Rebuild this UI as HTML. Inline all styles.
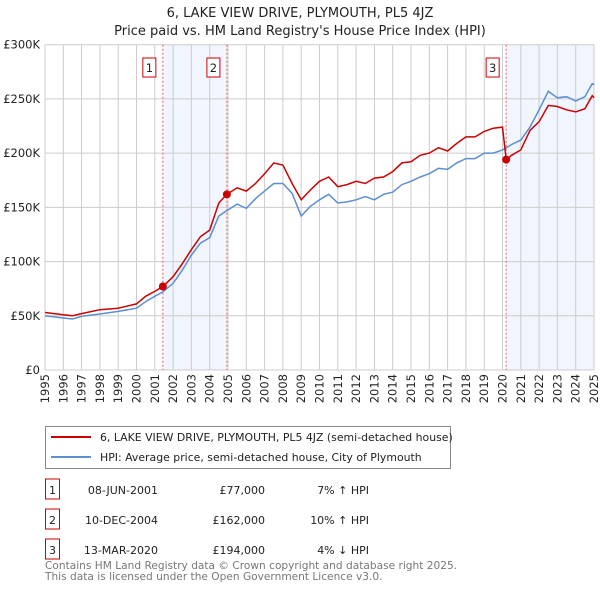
<!DOCTYPE html>
<html><head><meta charset="utf-8"><style>
body{margin:0;background:#fff;font-family:"Liberation Sans","DejaVu Sans",sans-serif;}
svg text{font-family:"DejaVu Sans","Liberation Sans",sans-serif;}
</style></head><body>
<svg id="c" width="600" height="590" xmlns="http://www.w3.org/2000/svg">
<text x="300" y="17" text-anchor="middle" font-size="13" fill="#222">6, LAKE VIEW DRIVE, PLYMOUTH, PL5 4JZ</text>
<text x="300" y="35" text-anchor="middle" font-size="13" fill="#222">Price paid vs. HM Land Registry's House Price Index (HPI)</text>
<g id="plot"></g>
<g>
<rect x="45.5" y="426.5" width="405" height="42" fill="#fff" stroke="#888"/>
<line x1="51" y1="437" x2="91" y2="437" stroke="#cc0000" stroke-width="2"/>
<text x="100" y="441" font-size="10.9" fill="#222">6, LAKE VIEW DRIVE, PLYMOUTH, PL5 4JZ (semi-detached house)</text>
<line x1="51" y1="457" x2="91" y2="457" stroke="#5b8fd0" stroke-width="2"/>
<text x="100" y="461" font-size="10.9" fill="#222">HPI: Average price, semi-detached house, City of Plymouth</text>
</g>
<g id="table" font-size="11" fill="#222"></g>
<text x="45" y="569" font-size="10.6" fill="#777">Contains HM Land Registry data © Crown copyright and database right 2025.</text>
<text x="45" y="580" font-size="10.6" fill="#777">This data is licensed under the Open Government Licence v3.0.</text>
</svg>
<script>
const yearsRed=[1995,1996,1996.5,1997,1998,1999,2000,2000.5,2001,2001.44,2002,2002.5,2003,2003.5,2004,2004.5,2004.94,2005.5,2006,2006.5,2007,2007.5,2008,2008.5,2009,2009.5,2010,2010.5,2011,2011.5,2012,2012.5,2013,2013.5,2014,2014.5,2015,2015.5,2016,2016.5,2017,2017.5,2018,2018.5,2019,2019.5,2020.0,2020.2,2020.5,2021,2021.5,2022,2022.5,2023,2023.5,2024,2024.5,2024.9,2025];
const valuesRed=[53,51,50,52,55.6,57,61,68,72.5,77,86,98,111,123,129,154,162,168,165,172,181,191,189,172,157,166,174,178,169,171,174,172,177,178,183,191,192,198,200,205,202,209,215,215,220,223,224,194,198,203,221,229,244,243,240,238,241,253,251];
const yearsHpi=[1995,1996,1996.5,1997,1998,1999,2000,2000.5,2001,2001.44,2002,2002.5,2003,2003.5,2004,2004.5,2004.94,2005.5,2006,2006.5,2007,2007.5,2008,2008.5,2009,2009.5,2010,2010.5,2011,2011.5,2012,2012.5,2013,2013.5,2014,2014.5,2015,2015.5,2016,2016.5,2017,2017.5,2018,2018.5,2019,2019.5,2020,2020.5,2021,2021.5,2022,2022.5,2023,2023.5,2024,2024.5,2024.9,2025];
const valuesHpi=[50,48,47,49.5,51.6,54,57,63,68,72,80,92,106,117,122,142,147,153,149,158,165,172,172,163,142,151,157,162,154,155,157,160,157,162,164,171,174,178,181,186,185,191,195,195,200,200,203,208,212,224,240,257,251,252,248,252,264,263];
const saleYears=[2001.44,2004.94,2020.2];
const saleValues=[77,162,194];
const saleLabels=["1","2","3"];
const saleDates=["08-JUN-2001","10-DEC-2004","13-MAR-2020"];
const salePrices=["£77,000","£162,000","£194,000"];
const saleHpi=["7% ↑ HPI","10% ↑ HPI","4% ↓ HPI"];
const yTicks=[0,50,100,150,200,250,300];
const yTickLabels=["£0","£50K","£100K","£150K","£200K","£250K","£300K"];
const xYears=[1995,1996,1997,1998,1999,2000,2001,2002,2003,2004,2005,2006,2007,2008,2009,2010,2011,2012,2013,2014,2015,2016,2017,2018,2019,2020,2021,2022,2023,2024,2025];

const NS="http://www.w3.org/2000/svg";
const L=45,R=594,T=44.7,B=370;
const X=y=>L+(y-1995)/30*(R-L);
const Y=v=>B-v/300*(B-T);
const plot=document.getElementById('plot');
function el(tag,attrs,parent){const e=document.createElementNS(NS,tag);for(const k in attrs)e.setAttribute(k,attrs[k]);(parent||plot).appendChild(e);return e;}
let s1=el('rect',{x:X(saleYears[0]),y:T,width:X(saleYears[1])-X(saleYears[0]),height:B-T,fill:'#eef3fc',opacity:0.8});


let s2=el('rect',{x:X(saleYears[2]),y:T,width:R-X(saleYears[2]),height:B-T,fill:'#eef3fc',opacity:0.8});


xYears.forEach((yr,i)=>{
 let g=el('line',{x1:X(yr),x2:X(yr),y1:T,y2:B,stroke:'#ccc','stroke-width':1});
 
 
 let t=el('text',{x:0,y:0,'font-size':11.5,fill:'#222','text-anchor':'end',transform:`translate(${X(yr)+4},${B+4}) rotate(-90)`});
 t.textContent=String(yr);
 
 
});
yTicks.forEach((v,i)=>{
 let g=el('line',{x1:L,x2:R,y1:Y(v),y2:Y(v),stroke:'#ccc','stroke-width':1});
 
 
 let t=el('text',{x:L-5,y:Y(v)+4,'font-size':11.5,fill:'#222','text-anchor':'end'});
 t.textContent=yTickLabels[i];
 
 
});
saleYears.forEach((yr,i)=>{
 let v=el('line',{x1:X(yr),x2:X(yr),y1:T,y2:B,stroke:'#e06060','stroke-width':1,'stroke-dasharray':'2,2'});
 
 
 let bx=el('rect',{x:X(yr)-20,y:58,width:13,height:19,fill:'#fff',stroke:'#cc0000'});
 
 
 let t=el('text',{x:X(yr)-13.5,y:72,'font-size':11.5,fill:'#222','text-anchor':'middle'});
 t.textContent=saleLabels[i];
 
 
});
function path(xs,vs){return xs.map((x,i)=>(i?'L':'M')+X(x).toFixed(1)+','+Y(vs[i]).toFixed(1)).join('');}
let hp=el('path',{d:path(yearsHpi,valuesHpi),fill:'none',stroke:'#5b8fd0','stroke-width':1.5});


let rp=el('path',{d:path(yearsRed,valuesRed),fill:'none',stroke:'#cc0000','stroke-width':1.5});


saleYears.forEach((yr,i)=>{
 let c=el('circle',{cx:X(yr),cy:Y(saleValues[i]),r:4,fill:'#cc0000'});
 
 
});
const tb=document.getElementById('table');
saleLabels.forEach((lb,i)=>{
 const y=493+i*30;
 let bx=el('rect',{x:45.5,y:y-14,width:14,height:20,fill:'#fff',stroke:'#cc0000'},tb);
 
 
 const cols=[[52.5,lb,'middle'],[158,saleDates[i],'end'],[265,salePrices[i],'end'],[369,saleHpi[i],'end']];
 cols.forEach(c=>{
  let t=el('text',{x:c[0],y:y+1,'text-anchor':c[2]},tb);
  t.textContent=c[1];
  
  
 });
});
</script>
</body></html>
